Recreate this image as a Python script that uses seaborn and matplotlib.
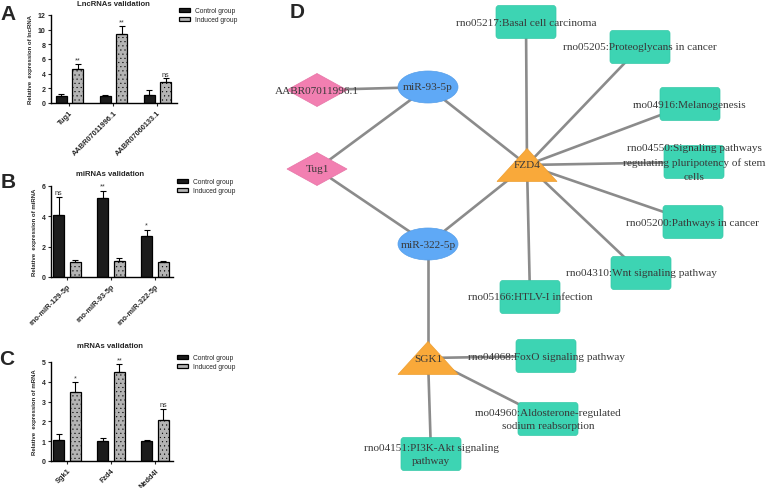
import numpy as np
import pandas as pd
import matplotlib.pyplot as plt
import seaborn as sns
from matplotlib.patches import Polygon, Ellipse, FancyBboxPatch

# --- SETUP ---
sns.set_theme(style="ticks")
plt.rcParams['font.family'] = ['Liberation Sans', 'DejaVu Sans']
plt.rcParams['hatch.linewidth'] = 0.3

W, H = 777, 489

# --- DATA: qPCR validation ---
groups = ['Control group', 'Induced group']

lnc_names = ['Tug1', 'AABR07011996.1', 'AABR07060133.1']
lnc_control = [1.0, 0.95, 1.15]
lnc_control_err = [0.25, 0.1, 0.6]
lnc_induced = [4.7, 9.4, 2.9]
lnc_induced_err = [0.6, 1.1, 0.45]
lnc_marks = ['**', '**', 'ns']

mir_names = ['rno-miR-129-5p', 'rno-miR-93-5p', 'rno-miR-322-5p']
mir_control = [4.1, 5.2, 2.7]
mir_control_err = [1.15, 0.5, 0.42]
mir_induced = [1.0, 1.03, 1.0]
mir_induced_err = [0.15, 0.2, 0.08]
mir_marks = ['ns', '**', '*']

mrna_names = ['Sgk1', 'Fzd4', 'Nedd4l']
mrna_control = [1.05, 1.02, 1.0]
mrna_control_err = [0.32, 0.16, 0.08]
mrna_induced = [3.47, 4.5, 2.07]
mrna_induced_err = [0.5, 0.4, 0.58]
mrna_marks = ['*', '**', 'ns']

# --- DATA: ceRNA / KEGG network ---
lnc_nodes = ['AABR07011996.1', 'Tug1']
mir_nodes = ['miR-93-5p', 'miR-322-5p']
gene_nodes = ['FZD4', 'SGK1']
pathway_nodes = [
    'rno05217:Basal cell carcinoma',
    'rno05205:Proteoglycans in cancer',
    'rno04916:Melanogenesis',
    'rno04550:Signaling pathways\nregulating pluripotency of stem\ncells',
    'rno05200:Pathways in cancer',
    'rno04310:Wnt signaling pathway',
    'rno05166:HTLV-I infection',
    'rno04068:FoxO signaling pathway',
    'rno04960:Aldosterone-regulated\nsodium reabsorption',
    'rno04151:PI3K-Akt signaling\npathway',
]
edges = [
    ('AABR07011996.1', 'miR-93-5p'),
    ('Tug1', 'miR-93-5p'),
    ('Tug1', 'miR-322-5p'),
    ('miR-93-5p', 'FZD4'),
    ('miR-322-5p', 'FZD4'),
    ('miR-322-5p', 'SGK1'),
] + [('FZD4', p) for p in pathway_nodes[:7]] + [('SGK1', p) for p in pathway_nodes[7:]]

# network layout (pixel space of the panel)
layout = {
    'AABR07011996.1': (317, 91),
    'Tug1': (317, 170),
    'miR-93-5p': (428, 88),
    'miR-322-5p': (428, 245),
    'FZD4': (527, 166),
    'SGK1': (428, 359),
    pathway_nodes[0]: (526, 23),
    pathway_nodes[1]: (640, 48),
    pathway_nodes[2]: (690, 105),
    pathway_nodes[3]: (694, 163),
    pathway_nodes[4]: (693, 223),
    pathway_nodes[5]: (641, 274),
    pathway_nodes[6]: (530, 298),
    pathway_nodes[7]: (546, 357),
    pathway_nodes[8]: (548, 420),
    pathway_nodes[9]: (431, 455),
}

fig = plt.figure(figsize=(W / 100, H / 100), dpi=100)


def px_axes(x, y, w, h):
    return fig.add_axes([x / W, 1 - (y + h) / H, w / W, h / H])


def plot_validation(ax, names, control, control_err, induced, induced_err,
                    marks, mark_on, ymax, ystep, ylabel, xlim, legend_xy):
    df = pd.DataFrame({
        'gene': names * 2,
        'group': [groups[0]] * len(names) + [groups[1]] * len(names),
        'value': control + induced,
    })
    sns.barplot(data=df, x='gene', y='value', hue='group', hue_order=groups,
                palette={groups[0]: '#1c1c1c', groups[1]: '#b4b4b4'},
                width=0.76, gap=0.34, errorbar=None, edgecolor='black',
                linewidth=0.9, ax=ax)
    bars = list(ax.containers)[:2]
    for b in bars[1]:
        b.set_hatch('....')
    errs = [control_err, induced_err]
    for cont, err in zip(bars, errs):
        xs = [b.get_x() + b.get_width() / 2 for b in cont]
        hs = [b.get_height() for b in cont]
        ax.errorbar(xs, hs, yerr=[np.zeros(len(err)), err], fmt='none',
                    ecolor='black', elinewidth=0.8, capsize=2, capthick=0.8)
    for b, e, m in zip(bars[mark_on], errs[mark_on], marks):
        ax.text(b.get_x() + b.get_width() / 2, b.get_height() + e + ymax * 0.01, m,
                ha='center', va='bottom', fontsize=5.2, color='#333333')

    ax.set_xlim(*xlim)
    ax.set_ylim(0, ymax)
    ax.set_yticks(np.arange(0, ymax + 0.01, ystep))
    sns.despine(ax=ax)
    for s in ['left', 'bottom']:
        ax.spines[s].set_linewidth(1.0)
        ax.spines[s].set_color('black')
    ax.tick_params(axis='both', width=0.8, length=2.5, pad=1.5, labelsize=5)
    ax.set_xticks(range(len(names)))
    ax.set_xticklabels(names, rotation=45, ha='right', rotation_mode='anchor',
                       fontsize=5.3, fontweight='bold')
    for t in ax.get_yticklabels():
        t.set_fontweight('bold')
    ax.set_xlabel('')
    ax.set_ylabel(ylabel, fontsize=4.3, fontweight='bold', labelpad=3)

    handles = ax.legend_.legend_handles
    ax.legend(handles, groups, loc='upper left',
              bbox_to_anchor=(legend_xy[0] / W, 1 - legend_xy[1] / H),
              bbox_transform=fig.transFigure, frameon=False, fontsize=4.8,
              handlelength=1.7, handleheight=0.55, handletextpad=0.7,
              labelspacing=0.35, borderaxespad=0, borderpad=0)


# --- PANELS A-C ---
ax_a = px_axes(51, 16, 126, 88)
plot_validation(ax_a, lnc_names, lnc_control, lnc_control_err, lnc_induced,
                lnc_induced_err, lnc_marks, 1, 12, 2,
                'Relative  expression of lncRNA', (-0.42, 2.444), (179, 8))

ax_b = px_axes(51, 187, 122, 91)
plot_validation(ax_b, mir_names, mir_control, mir_control_err, mir_induced,
                mir_induced_err, mir_marks, 0, 6, 2,
                'Relative  expression of miRNA', (-0.364, 2.41), (177, 179))

ax_c = px_axes(51, 363, 122, 99)
plot_validation(ax_c, mrna_names, mrna_control, mrna_control_err, mrna_induced,
                mrna_induced_err, mrna_marks, 1, 5, 1,
                'Relative  expression of mRNA', (-0.364, 2.41), (177, 355))

for txt, x, y in [('LncRNAs validation', 113, 5), ('miRNAs validation', 110, 175),
                  ('mRNAs validation', 110, 347)]:
    fig.text(x / W, 1 - y / H, txt, ha='center', va='center', fontsize=5.6,
             fontweight='bold')

for txt, x, y in [('A', 8, 15), ('B', 8, 183), ('C', 7, 360), ('D', 297, 12)]:
    fig.text(x / W, 1 - y / H, txt, ha='center', va='center', fontsize=15,
             fontweight='bold')

# --- PANEL D: network ---
ax_d = fig.add_axes([260 / W, 0, (W - 260) / W, 1])
ax_d.set_xlim(260, W)
ax_d.set_ylim(H, 0)
ax_d.axis('off')

node_w, node_h = 60, 33
for a, b in edges:
    (xa, ya), (xb, yb) = layout[a], layout[b]
    ax_d.plot([xa, xb], [ya, yb], color='#8b8b8b', lw=1.9, zorder=1,
              solid_capstyle='butt')

for n in lnc_nodes:
    x, y = layout[n]
    ax_d.add_patch(Polygon([(x - node_w / 2, y), (x, y - node_h / 2),
                            (x + node_w / 2, y), (x, y + node_h / 2)],
                           closed=True, fc='#f27fb1', ec='#e774a6', lw=0.5, zorder=2))
for n in mir_nodes:
    x, y = layout[n]
    ax_d.add_patch(Ellipse((x, y), node_w, node_h - 1, fc='#5fa9f6',
                           ec='#559ee9', lw=0.5, zorder=2))
for n in gene_nodes:
    x, y = layout[n]
    ax_d.add_patch(Polygon([(x, y - node_h / 2), (x - node_w / 2, y + node_h / 2),
                            (x + node_w / 2, y + node_h / 2)],
                           closed=True, fc='#f9a93a', ec='#ee9e30', lw=0.5, zorder=2))
for n in pathway_nodes:
    x, y = layout[n]
    ax_d.add_patch(FancyBboxPatch((x - node_w / 2 + 3, y - node_h / 2 + 3),
                                  node_w - 6, node_h - 6,
                                  boxstyle='round,pad=3', fc='#3dd4b3',
                                  ec='#36c8a8', lw=0.5, zorder=2))

for n in lnc_nodes + mir_nodes + gene_nodes + pathway_nodes:
    x, y = layout[n]
    ax_d.text(x, y, n, ha='center', va='center', fontsize=8.1,
              family=['Liberation Serif', 'DejaVu Serif'], color='#383838',
              linespacing=1.7, zorder=3)

fig.savefig('out.png', dpi=100)
